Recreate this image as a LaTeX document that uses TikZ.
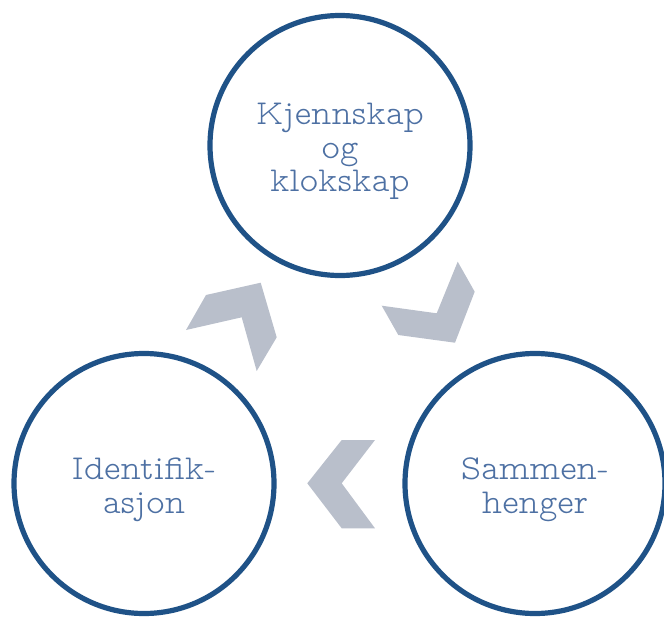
\documentclass[tikz,border=0pt]{standalone}
\usepackage{fontspec}
\newfontfamily\stagefont{lmmonoproplt10-regular.otf}
\definecolor{ringblue}{HTML}{1F5287}
\definecolor{labelblue}{HTML}{4D70A3}
\definecolor{chevgray}{HTML}{B9BFCB}
\tikzset{
  stage/.style={circle, draw=ringblue, line width=5.2pt, minimum size=260pt,
    inner sep=0pt, align=center, text=labelblue,
    font=\stagefont\fontsize{35}{33.5}\selectfont},
  chevron/.style={fill=chevgray, draw=none}
}
% extra height above the first line lowers the text block a little
\newcommand\toppad{\rule{0pt}{34pt}}
\begin{document}
\begin{tikzpicture}[x=1pt, y=-1pt]
  \useasboundingbox (0,0) rectangle (664,616);
  % three stages of the cycle
  \node[stage] (top) at (340,145.5) {\toppad Kjennskap\\og\\klokskap};
  \node[stage] (left) at (144,483.5) {\toppad Identifik-\\asjon};
  \node[stage] (right) at (535,483.5) {\toppad Sammen-\\henger};
  % chevrons pointing around the cycle
  \fill[chevron] (186,330) -- (206,295) -- (260.7,282.7) -- (276.7,337.3)
    -- (256.7,371) -- (241.7,317.3) -- cycle;
  \fill[chevron] (381.7,305.7) -- (436.7,313.3) -- (457.7,261.7) -- (474.7,291.7)
    -- (455,342.7) -- (398.3,335) -- cycle;
  \fill[chevron] (341.7,440) -- (375,440) -- (341.7,483.3) -- (375,528.3)
    -- (341.7,528.3) -- (307.3,483.3) -- cycle;
\end{tikzpicture}
\end{document}
